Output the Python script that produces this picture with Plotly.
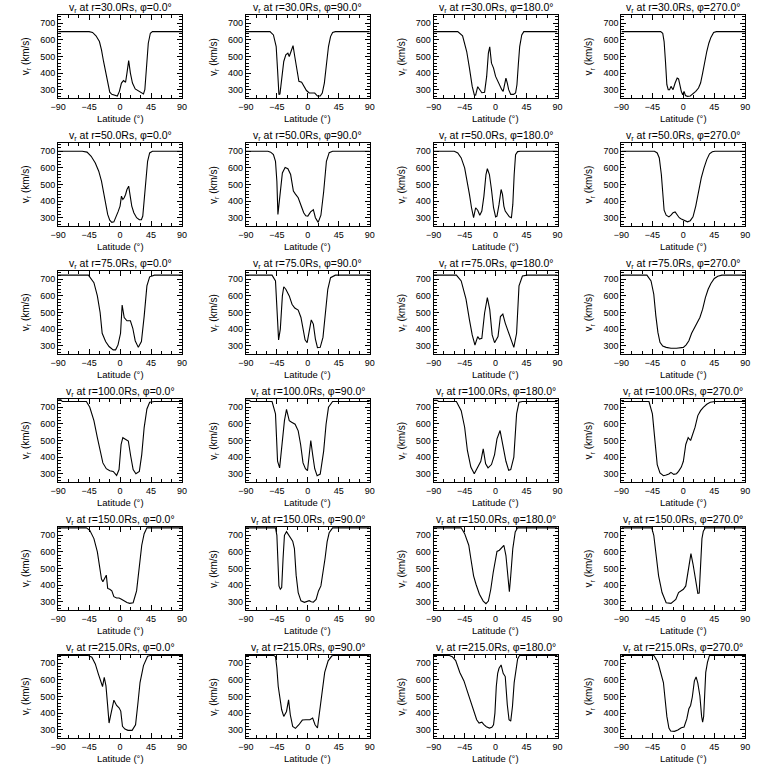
import plotly.graph_objects as go

radii = [30.0, 50.0, 75.0, 100.0, 150.0, 215.0]
phis = [0.0, 90.0, 180.0, 270.0]
x_ticks = [-90, -45, 0, 45, 90]
y_ticks = [300, 400, 500, 600, 700]

# r = 30 Rs
lat_r30_p0 = [-90, -45, -40, -35, -30, -27, -24, -21, -18, -15, -12, -8, -4, -1, 2, 5, 8, 10, 12.5, 15, 18, 22, 27, 32, 34, 36, 38, 41, 44, 47, 90]
v_r30_p0 = [650, 650, 645, 625, 590, 540, 470, 400, 330, 285, 272, 265, 262, 290, 340, 355, 345, 400, 475, 400, 340, 305, 292, 280, 275, 300, 420, 580, 640, 650, 650]
lat_r30_p90 = [-90, -55, -50, -46, -44, -42, -40.5, -38, -35, -32, -29, -27, -24, -21.5, -19, -16, -13, -9, -5, -2, 2, 6, 10, 14, 18, 21, 24, 27, 30, 33, 36, 40, 90]
v_r30_p90 = [650, 650, 630, 560, 420, 270, 275, 380, 470, 510, 520, 500, 540, 565, 500, 420, 350, 345, 320, 295, 280, 280, 280, 262, 262, 280, 340, 450, 560, 620, 645, 650, 650]
lat_r30_p180 = [-90, -55, -48, -42, -38, -34, -31, -29, -26, -23, -20, -16, -13, -10.5, -8.5, -6, -3, 0, 3, 6, 9, 11, 13, 15, 17, 19, 22, 26, 29, 31, 33, 35, 38, 41, 90]
v_r30_p180 = [650, 650, 625, 530, 430, 320, 270, 268, 318, 300, 282, 285, 380, 520, 558, 460, 430, 380, 350, 320, 300, 290, 330, 370, 340, 300, 272, 272, 280, 330, 450, 560, 630, 650, 650]
lat_r30_p270 = [-90, -33, -30, -28, -26, -24, -22, -20, -18, -15, -12, -9, -7, -5, -3, -1, 1, 3, 6, 10, 14, 18, 22, 25, 28, 31, 34, 37, 40, 44, 48, 90]
v_r30_p270 = [650, 650, 640, 590, 470, 330, 300, 300, 320, 300, 340, 370, 365, 320, 290, 270, 290, 265, 260, 262, 275, 290, 310, 340, 400, 470, 530, 580, 615, 645, 650, 650]

# r = 50 Rs
lat_r50_p0 = [-90, -55, -48, -42, -36, -31, -27, -24, -21, -18, -15, -12, -9, -6, -3, 0, 2, 4, 6, 8, 10, 12.5, 14, 17, 20, 24, 28, 31, 33, 35, 37, 40, 43, 47, 90]
v_r50_p0 = [700, 700, 695, 670, 630, 580, 520, 450, 380, 320, 285, 272, 275, 300, 335, 370, 430, 410, 420, 440, 470, 490, 450, 370, 330, 300, 288, 288, 310, 400, 520, 640, 690, 700, 700]
lat_r50_p90 = [-90, -58, -54, -50, -47, -45, -43.5, -42, -40, -37, -33, -29, -25, -21, -18, -14, -10, -6, -3, 0, 4, 8, 11, 15, 19, 23, 27, 31, 36, 90]
v_r50_p90 = [700, 700, 695, 680, 640, 520, 320, 380, 470, 570, 603, 595, 560, 460, 442, 420, 375, 330, 312, 310, 335, 348, 300, 272, 315, 456, 640, 692, 700, 700]
lat_r50_p180 = [-90, -60, -55, -50, -45, -41, -38, -35, -32, -29, -26, -23, -20, -17, -14, -12, -9, -6, -3, 0, 2, 5, 8, 10, 12, 14, 17, 20, 23, 25, 27, 29, 32, 36, 90]
v_r50_p180 = [700, 700, 690, 660, 600, 520, 440, 360, 300, 360, 345, 315, 340, 430, 560, 595, 560, 470, 360, 305, 310, 380, 470, 440, 370, 340, 320, 305, 300, 380, 560, 680, 698, 700, 700]
lat_r50_p270 = [-90, -42, -38, -35, -32, -30, -28, -25, -21, -18, -15, -12, -9, -6, -3, 0, 3, 6, 10, 14, 18, 22, 26, 30, 34, 38, 42, 46, 90]
v_r50_p270 = [700, 700, 690, 660, 560, 420, 345, 315, 305, 315, 330, 335, 315, 300, 292, 285, 278, 275, 282, 305, 370, 460, 540, 600, 650, 685, 697, 700, 700]

# r = 75 Rs
lat_r75_p0 = [-90, -46, -38, -33, -29, -26, -21, -16, -10, -6.5, -3, 0.7, 3, 6, 10, 15, 18.5, 22, 26.5, 31, 35, 39, 43, 50, 90]
v_r75_p0 = [725, 725, 680, 600, 500, 375, 325, 295, 275, 275, 305, 375, 545, 470, 450, 450, 405, 330, 290, 325, 477, 660, 715, 725, 725]
lat_r75_p90 = [-90, -52, -47, -44.5, -42.5, -40, -37, -35, -32, -27, -23, -19, -14, -10, -7, -4, -1, 2, 5, 8, 11, 14, 18, 22, 26, 29, 33, 40, 90]
v_r75_p90 = [725, 725, 690, 500, 335, 400, 600, 655, 640, 600, 550, 527, 515, 470, 400, 335, 318, 380, 455, 430, 340, 288, 290, 350, 500, 640, 710, 725, 725]
lat_r75_p180 = [-90, -57, -50, -43, -38, -34, -30, -26, -23.5, -20, -16, -12, -8.5, -5, -1.5, 3.5, 7, 10.5, 14, 19, 23.5, 26.5, 30.5, 34, 39, 46, 90]
v_r75_p180 = [725, 725, 690, 580, 456, 365, 304, 355, 340, 345, 497, 590, 517, 365, 318, 355, 476, 490, 436, 375, 325, 290, 375, 660, 720, 725, 725]
lat_r75_p270 = [-90, -53, -47, -43, -40, -37, -34, -30, -25, -18, -10, -4, 0, 4, 8, 12, 16, 20, 24, 28, 32, 36, 40, 45, 50, 56, 90]
v_r75_p270 = [725, 725, 690, 610, 480, 380, 320, 298, 290, 285, 285, 286, 290, 305, 330, 375, 410, 440, 470, 520, 590, 640, 675, 705, 718, 725, 725]

# r = 100 Rs
lat_r100_p0 = [-90, -86, -84, -49, -44, -38, -33, -29, -25, -20, -15, -10, -5, -1.5, 1.5, 4, 8, 12, 15.5, 19, 23, 28, 31.5, 35, 39, 43, 50, 90]
v_r100_p0 = [745, 745, 735, 735, 700, 620, 517, 436, 365, 330, 318, 314, 290, 325, 476, 517, 507, 497, 405, 325, 300, 314, 415, 578, 690, 730, 735, 735]
lat_r100_p90 = [-90, -85, -83, -52, -47, -44, -41, -38, -34, -31, -27, -23.5, -18.5, -14, -10.5, -7, -3.5, -0.5, 2, 4.3, 7, 10, 13.5, 18, 23, 26.5, 30, 36, 90]
v_r100_p90 = [742, 742, 735, 735, 660, 375, 335, 456, 620, 688, 620, 610, 598, 558, 476, 365, 330, 318, 415, 500, 415, 330, 288, 298, 436, 598, 700, 735, 735]
lat_r100_p180 = [-90, -85, -83, -57, -50, -45, -41, -36, -31, -25, -21.5, -18, -14.5, -11, -6, -1.5, 2, 6.5, 10.5, 15, 19, 22, 26.5, 30.5, 34, 39, 90]
v_r100_p180 = [742, 742, 735, 735, 680, 580, 440, 340, 300, 345, 375, 450, 360, 335, 355, 415, 510, 560, 480, 375, 320, 325, 400, 660, 730, 735, 735]
lat_r100_p270 = [-90, -50, -45, -41, -38, -34, -29, -25, -21, -18, -14, -10, -7, -3, 0, 3.5, 7, 10.5, 14, 17, 21, 25, 29, 34, 39, 46, 90]
v_r100_p270 = [735, 735, 660, 456, 355, 304, 288, 292, 298, 308, 296, 300, 314, 340, 375, 476, 517, 500, 540, 580, 650, 680, 700, 718, 730, 735, 735]

# r = 150 Rs
lat_r150_p0 = [-90, -49, -44, -38, -33, -29.5, -27, -25, -22, -20, -18, -15, -12, -9, -5, -1.5, 2, 6, 10, 14, 19, 24, 28, 31.5, 35, 39, 90]
v_r150_p0 = [745, 745, 730, 680, 600, 517, 436, 420, 440, 460, 380, 375, 365, 330, 322, 322, 315, 304, 295, 290, 294, 365, 517, 640, 710, 745, 745]
lat_r150_p90 = [-90, -47, -45, -43.5, -42, -40, -38, -36, -34, -31, -27, -22, -19.5, -17, -14, -10, -5, -1, 2, 5, 8, 12, 15.5, 19, 22, 25, 28, 31, 36, 90]
v_r150_p90 = [745, 745, 700, 500, 395, 375, 385, 560, 700, 722, 700, 665, 620, 460, 355, 305, 296, 300, 306, 300, 297, 314, 365, 395, 470, 560, 660, 715, 745, 745]
lat_r150_p180 = [-90, -50, -45, -39, -36, -32, -28.5, -23.5, -18, -14, -10.5, -7, -3.5, 0, 2, 5.5, 9, 12, 15, 18, 20, 22, 25, 28.5, 32, 90]
v_r150_p180 = [745, 745, 710, 640, 560, 456, 405, 345, 304, 288, 304, 375, 476, 558, 603, 610, 630, 640, 578, 456, 360, 456, 620, 720, 745, 745]
lat_r150_p270 = [-90, -46, -43, -39, -36, -31, -25, -18, -11, -7, -3.5, 0, 3.5, 7, 9, 11, 14, 18, 21, 23, 25, 27, 29, 32, 90]
v_r150_p270 = [745, 745, 700, 578, 456, 355, 294, 290, 314, 355, 365, 375, 395, 497, 560, 590, 527, 415, 350, 352, 500, 680, 725, 745, 745]

# r = 215 Rs
lat_r215_p0 = [-90, -47, -41, -36, -31.5, -28, -25.5, -23, -20.5, -18, -16, -14, -12, -9, -5, -1.5, 1, 3.5, 7, 11.5, 17.5, 22.5, 26, 29, 34, 40, 45, 90]
v_r215_p0 = [748, 748, 737, 696, 635, 584, 560, 615, 564, 442, 340, 380, 420, 478, 446, 432, 412, 320, 304, 296, 296, 330, 462, 584, 686, 742, 748, 748]
lat_r215_p90 = [-90, -50, -47, -45, -43, -40.5, -38, -35, -31, -28, -25.5, -22, -18, -13, -8, -3, 3, 7, 10.5, 14, 17, 21, 24.5, 29.5, 35, 40, 90]
v_r215_p90 = [748, 748, 740, 672, 560, 480, 420, 380, 410, 480, 390, 320, 308, 330, 358, 360, 360, 370, 330, 310, 400, 543, 645, 715, 745, 748, 748]
lat_r215_p180 = [-90, -68, -63, -58, -52, -46, -42, -37, -32, -27.5, -24, -20, -17, -13.5, -9, -5.5, -3, -1, 1, 3, 5, 8, 11, 14, 17, 19.5, 22, 24.5, 27, 29.5, 32, 35, 90]
v_r215_p180 = [748, 748, 740, 716, 645, 594, 543, 482, 422, 360, 340, 345, 330, 318, 310, 315, 330, 400, 560, 640, 670, 690, 640, 620, 450, 360, 352, 440, 584, 670, 726, 748, 748]
lat_r215_p270 = [-90, -43, -37, -33, -29, -26.5, -24, -21, -18.5, -13, -8, -3, 1, 5, 8, 10.5, 13, 16, 18.5, 21, 24, 26.5, 28, 29.5, 31, 32.5, 35, 38, 90]
v_r215_p270 = [748, 748, 706, 645, 584, 482, 380, 310, 292, 290, 298, 312, 316, 365, 426, 446, 497, 594, 618, 580, 503, 380, 345, 380, 540, 645, 706, 748, 748]

series = [
    [(lat_r30_p0, v_r30_p0), (lat_r30_p90, v_r30_p90), (lat_r30_p180, v_r30_p180), (lat_r30_p270, v_r30_p270)],
    [(lat_r50_p0, v_r50_p0), (lat_r50_p90, v_r50_p90), (lat_r50_p180, v_r50_p180), (lat_r50_p270, v_r50_p270)],
    [(lat_r75_p0, v_r75_p0), (lat_r75_p90, v_r75_p90), (lat_r75_p180, v_r75_p180), (lat_r75_p270, v_r75_p270)],
    [(lat_r100_p0, v_r100_p0), (lat_r100_p90, v_r100_p90), (lat_r100_p180, v_r100_p180), (lat_r100_p270, v_r100_p270)],
    [(lat_r150_p0, v_r150_p0), (lat_r150_p90, v_r150_p90), (lat_r150_p180, v_r150_p180), (lat_r150_p270, v_r150_p270)],
    [(lat_r215_p0, v_r215_p0), (lat_r215_p90, v_r215_p90), (lat_r215_p180, v_r215_p180), (lat_r215_p270, v_r215_p270)],
]

W = H = 768
col_left = [51, 242, 433, 624]
box_w = 126
row_top = [15 + 128 * i for i in range(6)]
box_h = 83
FONT = "Liberation Sans"

fig = go.Figure()
layout = dict(
    width=W, height=H, margin=dict(l=0, r=0, t=0, b=0),
    paper_bgcolor="white", plot_bgcolor="white", showlegend=False,
    font=dict(family=FONT, size=10, color="black"),
)
annotations = []

def px_x(x):
    return x / W

def px_y(y):
    return 1 - y / H

k = 0
for ri, r in enumerate(radii):
    for ci, phi in enumerate(phis):
        k += 1
        lat, v = series[ri][ci]
        xa = "x" if k == 1 else f"x{k}"
        ya = "y" if k == 1 else f"y{k}"
        fig.add_trace(go.Scatter(x=lat, y=v, mode="lines", line=dict(color="black", width=1.1),
                                 xaxis=xa, yaxis=ya, hoverinfo="skip"))
        l = col_left[ci]
        t = row_top[ri]
        axis_common = dict(showline=True, linecolor="black", linewidth=1, mirror="ticks",
                           ticks="inside", ticklen=5, tickwidth=1, tickcolor="black",
                           showgrid=False, zeroline=False, fixedrange=True,
                           tickfont=dict(family=FONT, size=9, color="black"))
        layout["xaxis" if k == 1 else f"xaxis{k}"] = dict(
            axis_common, domain=[px_x(l), px_x(l + box_w)], range=[-90, 90],
            tickmode="array", tickvals=x_ticks,
            ticktext=[("\u2212" + str(-t_)) if t_ < 0 else str(t_) for t_ in x_ticks],
            minor=dict(ticks="inside", ticklen=3, dtick=15, tick0=-90, tickcolor="black", showgrid=False),
            anchor=ya,
        )
        layout["yaxis" if k == 1 else f"yaxis{k}"] = dict(
            axis_common, domain=[px_y(t + box_h), px_y(t)], range=[250, 750],
            tickmode="array", tickvals=y_ticks, ticktext=[str(t_) for t_ in y_ticks],
            minor=dict(ticks="inside", ticklen=3, dtick=20, tick0=0, tickcolor="black", showgrid=False),
            anchor=xa,
        )
        annotations.append(dict(
            text=f"v<sub>r</sub> at r={r:.1f}Rs, \u03c6={phi:.1f}\u00b0",
            x=px_x(l + box_w / 2), y=px_y(t - 7), xref="paper", yref="paper",
            xanchor="center", yanchor="middle", showarrow=False,
            font=dict(family=FONT, size=10.5, color="black")))
        annotations.append(dict(
            text="Latitude (\u00b0)", x=px_x(l + box_w / 2), y=px_y(t + box_h + 20),
            xref="paper", yref="paper", xanchor="center", yanchor="middle", showarrow=False,
            font=dict(family=FONT, size=9.5, color="black")))
        annotations.append(dict(
            text="v<sub>r</sub> (km/s)", x=px_x(l - 33), y=px_y(t + box_h / 2),
            xref="paper", yref="paper", xanchor="center", yanchor="middle", textangle=-90,
            showarrow=False, font=dict(family=FONT, size=10, color="black")))

layout["annotations"] = annotations
fig.update_layout(**layout)
fig.write_html("out.html", config={"displayModeBar": False, "staticPlot": True},
               post_script="document.body.style.margin='0';document.body.style.padding='0';document.body.style.overflow='hidden';")
